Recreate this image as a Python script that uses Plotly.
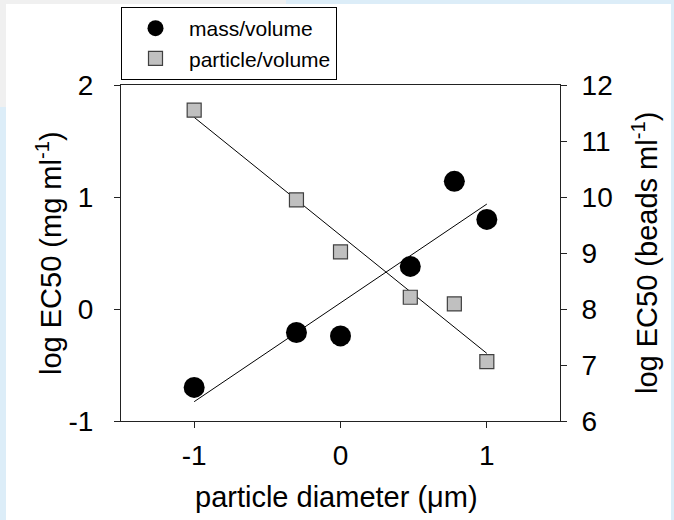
import numpy as np
import plotly.graph_objects as go

# ---- data ----
diameter_log = [-1.0, -0.301, 0.0, 0.477, 0.778, 1.0]
mass_volume = [-0.70, -0.21, -0.24, 0.38, 1.14, 0.80]          # left axis, log EC50 (mg/ml)
particle_volume = [11.55, 9.95, 9.02, 8.21, 8.09, 7.06]       # right axis, log EC50 (beads/ml)

x_ticks = [-1, 0, 1]
y_left_ticks = [-1, 0, 1, 2]
y_right_ticks = [6, 7, 8, 9, 10, 11, 12]

x_title = "particle diameter (\u03bcm)"
y_left_title = "log EC50 (mg ml<sup>-1</sup>)"
y_right_title = "log EC50 (beads ml<sup>-1</sup>)"

# ---- layout geometry (pixels) ----
W, H = 674, 520
L, R, T, B = 121, 560, 85, 421


def px(x):
    return (x - L) / (R - L)


def py(y):
    return (B - y) / (B - T)


FONT = "Liberation Sans, Arial, sans-serif"
TICK_SIZE = 28
TITLE_SIZE = 29

# regression lines computed from the data
xfit = np.array([min(diameter_log), max(diameter_log)])
m1, b1 = np.polyfit(diameter_log, mass_volume, 1)
m2, b2 = np.polyfit(diameter_log, particle_volume, 1)

fig = go.Figure()

fig.add_trace(go.Scatter(x=xfit, y=m1 * xfit + b1, mode="lines",
                         line=dict(color="black", width=1), showlegend=False,
                         hoverinfo="skip"))
fig.add_trace(go.Scatter(x=xfit, y=m2 * xfit + b2, mode="lines", yaxis="y2",
                         line=dict(color="black", width=1), showlegend=False,
                         hoverinfo="skip"))
fig.add_trace(go.Scatter(x=diameter_log, y=mass_volume, mode="markers",
                         name="mass/volume",
                         marker=dict(symbol="circle", size=21, color="black",
                                     line=dict(width=0))))
fig.add_trace(go.Scatter(x=diameter_log, y=particle_volume, mode="markers",
                         name="particle/volume", yaxis="y2",
                         marker=dict(symbol="square", size=14, color="#c0c0c0",
                                     line=dict(width=1.2, color="#404040"))))

axis_common = dict(showgrid=False, zeroline=False, showline=True,
                   linecolor="#222222", linewidth=1, ticks="outside",
                   ticklen=6, tickcolor="#222222", automargin=False,
                   tickfont=dict(family=FONT, size=TICK_SIZE, color="black"))

fig.update_layout(
    width=W, height=H,
    margin=dict(l=L, r=W - R, t=T, b=H - B, pad=0, autoexpand=False),
    paper_bgcolor="white", plot_bgcolor="white",
    font=dict(family=FONT, color="black"),
    xaxis=dict(range=[-1.5, 1.5], tickvals=x_ticks,
               ticktext=[str(v) for v in x_ticks], mirror=True,
               ticklabelstandoff=3, **axis_common),
    yaxis=dict(range=[-1, 2], tickvals=y_left_ticks,
               ticktext=[str(v) for v in y_left_ticks],
               ticklabelstandoff=15, **axis_common),
    yaxis2=dict(range=[6, 12], tickvals=y_right_ticks,
                ticktext=[str(v) for v in y_right_ticks], overlaying="y",
                side="right", ticklabelstandoff=9, **axis_common),
    legend=dict(xref="container", yref="container",
                x=121 / W, y=1 - 7 / H, xanchor="left", yanchor="top",
                bordercolor="black", borderwidth=1, bgcolor="white",
                font=dict(family=FONT, size=21, color="black"),
                itemwidth=57, itemsizing="trace", tracegroupgap=0),
    showlegend=True,
)

title_font = dict(family=FONT, size=TITLE_SIZE, color="black")
fig.add_annotation(text=x_title, xref="paper", yref="paper",
                   x=px(336), y=py(497), xanchor="center", yanchor="middle",
                   showarrow=False, font=title_font)
fig.add_annotation(text=y_left_title, xref="paper", yref="paper",
                   x=px(49), y=0.5, xanchor="center", yanchor="middle",
                   textangle=-90, showarrow=False, font=title_font)
fig.add_annotation(text=y_right_title, xref="paper", yref="paper",
                   x=px(645), y=0.5, xanchor="center", yanchor="middle",
                   textangle=-90, showarrow=False, font=title_font)

# thin frame strips at the image edges
strips = [
    (0, 0, 286, 4, "#f0f0f0"),
    (286, 0, 674, 4, "#dcedf8"),
    (0, 0, 6, 107, "#f0f0f0"),
    (0, 107, 6, 520, "#dcedf8"),
    (671, 0, 674, 520, "#dcedf8"),
]
for x0, y0, x1, y1, c in strips:
    fig.add_shape(type="rect", xref="paper", yref="paper",
                  x0=px(x0), x1=px(x1), y0=py(y1), y1=py(y0),
                  fillcolor=c, line=dict(width=0), layer="above")

fig.write_html("out.html",
               config={"displayModeBar": False},
               post_script="document.body.style.margin='0px';"
                           "document.body.style.padding='0px';")
